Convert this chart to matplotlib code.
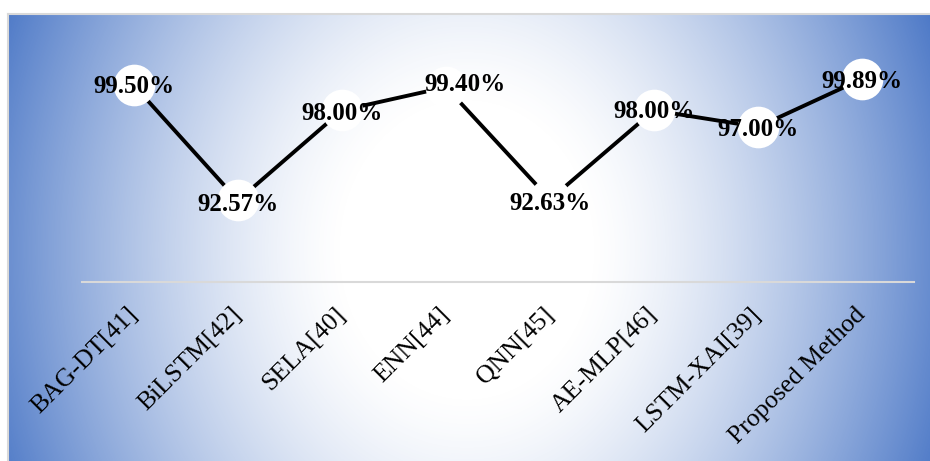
import numpy as np
import matplotlib
matplotlib.use("Agg")
import matplotlib.pyplot as plt
from matplotlib.colors import LinearSegmentedColormap

plt.rcParams['font.family'] = ['Liberation Serif', 'DejaVu Serif']

methods = ['BAG-DT[41]', 'BiLSTM[42]', 'SELA[40]', 'ENN[44]', 'QNN[45]',
           'AE-MLP[46]', 'LSTM-XAI[39]', 'Proposed Method']
accuracy = [99.50, 92.57, 98.00, 99.40, 92.63, 98.00, 97.00, 99.89]
label_shift = [(0, -1), (0, -3), (0, -2), (14, 2), (0, -3), (0, -1), (0, -2), (0, -2)]

W, H = 930, 461
fig = plt.figure(figsize=(W / 100, H / 100), dpi=100)

# radial white-to-blue fill behind the chart
bg = fig.add_axes([8 / W, 0, (W - 8) / W, (H - 14) / H])
bw, bh = W - 8, 480
yy, xx = np.mgrid[0:bh, 0:bw]
r = np.hypot(xx - 458, (yy - 236) * 0.85)
t = np.clip((r - 120) / 400, 0, 1) ** 1.4
cmap = LinearSegmentedColormap.from_list('fill', ['#FFFFFF', '#4472C4'])
bg.imshow(t, cmap=cmap, vmin=0, vmax=1, aspect='auto',
          extent=(0, bw, bh, 0), interpolation='bilinear')
bg.set_xlim(0, bw)
bg.set_ylim(H - 14, 0)
bg.set_xticks([])
bg.set_yticks([])
for side in ['right', 'bottom']:
    bg.spines[side].set_visible(False)
for side in ['left', 'top']:
    bg.spines[side].set_color('#D9D9D9')
    bg.spines[side].set_linewidth(1.5)

ax = fig.add_axes([82 / W, 179 / H, 832 / W, 252 / H])
ax.patch.set_alpha(0)
x = np.arange(len(methods))
ax.plot(x, accuracy, color='black', lw=2.8, zorder=2)
ax.plot(x, accuracy, 'o', color='white', ms=30, mec='none', zorder=3)

for xi, v, (dx, dy) in zip(x, accuracy, label_shift):
    ax.annotate(f'{v:.2f}%', (xi, v), xytext=(dx, dy), textcoords='offset points',
                ha='center', va='center', fontsize=18, fontweight='bold',
                zorder=4)

ax.set_xlim(-0.5, len(methods) - 0.5)
ax.set_ylim(87.66, 102.84)
ax.set_yticks([])
ax.set_xticks(x)
ax.set_xticklabels(methods, fontsize=18.5)
ax.tick_params(axis='x', length=0, pad=21)
for lab in ax.get_xticklabels():
    lab.set_rotation(45)
    lab.set_ha('right')
    lab.set_va('center')
    lab.set_rotation_mode('anchor')

for side in ['left', 'right', 'top']:
    ax.spines[side].set_visible(False)
ax.spines['bottom'].set_color('#D9D9D9')
ax.spines['bottom'].set_linewidth(1.5)

fig.savefig('out.png', dpi=100)
